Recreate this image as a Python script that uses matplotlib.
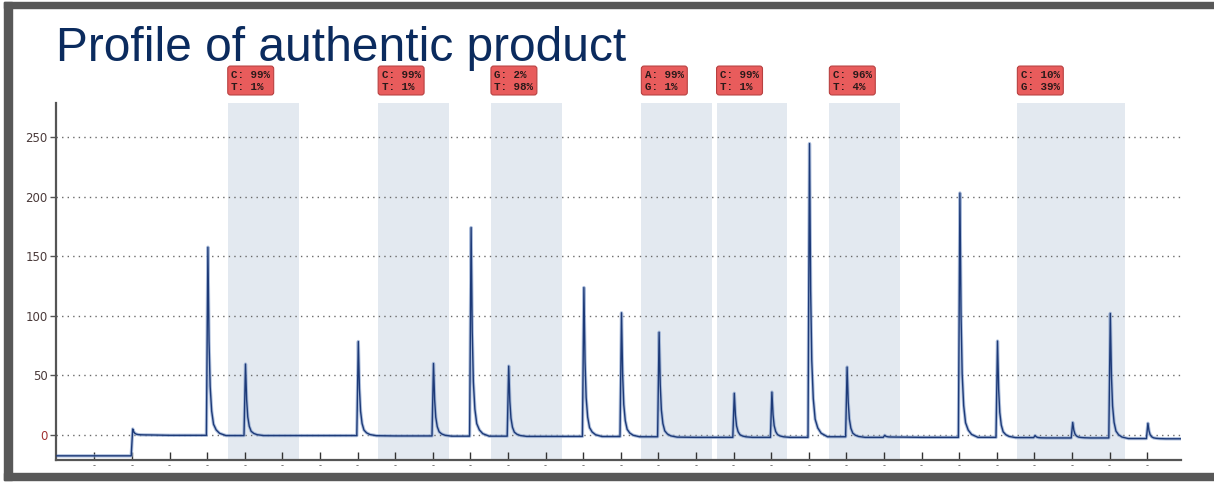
#!/usr/bin/env python3
"""
Pyrogram profile of the authentic product, redrawn with matplotlib.
"""

import matplotlib
matplotlib.use("Agg")
import matplotlib.pyplot as plt
import matplotlib.transforms as mtransforms
from matplotlib.patches import Rectangle

# Dispensation positions that show a peak, and the peak heights (RLU)
peak_pos = [2, 4, 5, 8, 10, 11, 12, 14, 15, 16, 18, 19, 20, 21, 22, 24, 25, 26, 27, 28, 29]
peak_height = [5, 158, 60, 79, 61, 175, 59, 125, 104, 88, 37, 38, 246, 59, 1.5, 205, 81, 2, 13, 105, 13]

# Baseline level after each dispensation 0..29
baseline = [-17.5, -17.5, 0.0, -0.3, -0.5, -0.5, -0.5, -0.5, -0.6, -0.8,
            -1.0, -1.0, -1.2, -1.2, -1.3, -1.5, -1.8, -2.0, -2.0, -2.0,
            -1.5, -2.0, -1.8, -2.0, -2.0, -2.2, -2.5, -2.5, -3.0, -3.2]

# Shape of one peak: offset from dispensation and fraction of peak height
peak_shape_dx = [0.02, 0.05, 0.08, 0.12, 0.17, 0.24, 0.33, 0.5]
peak_shape_frac = [1.0, 0.5, 0.26, 0.13, 0.06, 0.03, 0.012, 0.0]

# Variable positions (shaded) and their allele frequency labels
region_start = [4, 8, 11, 15, 17, 20, 25]
region_len = [1.88, 1.88, 1.88, 1.88, 1.88, 1.88, 2.87]
region_text = ["C: 99%\nT: 1%", "C: 99%\nT: 1%", "G: 2%\nT: 98%", "A: 99%\nG: 1%",
               "C: 99%\nT: 1%", "C: 96%\nT: 4%", "C: 10%\nG: 39%"]

y_ticks = [0, 50, 100, 150, 200, 250]
n_disp = 29

# build the trace vertices from the peak table
heights = dict(zip(peak_pos, peak_height))
xs, ys = [0.0], [baseline[0]]
for k in range(1, n_disp + 1):
    b_prev = baseline[k - 1]
    b = baseline[k] if k < len(baseline) else baseline[-1]
    if k in heights:
        xs.append(k - 0.02)
        ys.append(b_prev)
        for dx, f in zip(peak_shape_dx, peak_shape_frac):
            xs.append(k + dx)
            ys.append(b + f * heights[k])
    else:
        xs.append(k)
        ys.append(b)
xs.append(29.9)
ys.append(baseline[-1])

fig = plt.figure(figsize=(12.14, 4.82), dpi=100)
ax = fig.add_axes([56 / 1214, 1 - 460 / 482, (1181 - 56) / 1214, (460 - 103) / 482])

for s, w in zip(region_start, region_len):
    ax.axvspan(s + 0.55, s + 0.55 + w, color="#e3e9f0", lw=0, zorder=0)

for v in y_ticks:
    ax.axhline(v, color="#6a6a6a", lw=1.0, ls=(0, (1, 3)), zorder=1)

ax.plot(xs, ys, color="#8ea6cf", lw=2.4, alpha=0.7, zorder=2)
ax.plot(xs, ys, color="#1d3a78", lw=1.0, zorder=3)

ax.set_xlim(-0.02, 29.9)
ax.set_ylim(-21, 278.5)

for side in ["top", "right"]:
    ax.spines[side].set_visible(False)
for side in ["left", "bottom"]:
    ax.spines[side].set_color("#555555")
    ax.spines[side].set_linewidth(1.6)

ax.set_yticks(y_ticks)
ax.set_yticklabels([str(v) for v in y_ticks], fontsize=8.5, color="#4a3a3a", family="DejaVu Sans")
ax.get_yticklabels()[0].set_color("#a03030")
ax.tick_params(axis="y", length=4, width=1, color="#555555", pad=2)

ax.set_xticks(range(1, n_disp + 1))
ax.set_xticklabels(["-"] * n_disp, fontsize=6, color="#555555")
ax.tick_params(axis="x", direction="in", length=6, width=1, color="#333333", pad=1)

# allele frequency labels above the shaded regions
trans = mtransforms.blended_transform_factory(ax.transData, ax.transAxes)
for s, txt in zip(region_start, region_text):
    ax.text(s + 0.64, 1.063, txt, transform=trans, ha="left", va="center",
            fontsize=7.8, family="Liberation Mono", weight="bold", color="#2a1a1a",
            linespacing=1.25,
            bbox=dict(boxstyle="round,pad=0.32,rounding_size=0.25",
                      fc="#e85c5c", ec="#b84040", lw=0.8),
            clip_on=False)

fig.text(56 / 1214, 1 - 61 / 482, "Profile of authentic product", fontsize=34.5,
         family="Liberation Sans", color="#0b2b5e", ha="left", va="baseline")

# slide frame
frame = "#585858"
fig.patches.append(Rectangle((4 / 1214, 2 / 482), 1, 7 / 482, transform=fig.transFigure,
                             color=frame, zorder=10))
fig.patches.append(Rectangle((4 / 1214, 1 - 8 / 482), 1, 6 / 482, transform=fig.transFigure,
                             color=frame, zorder=10))
fig.patches.append(Rectangle((4 / 1214, 2 / 482), 8 / 1214, 1 - 4 / 482, transform=fig.transFigure,
                             color=frame, zorder=10))

plt.savefig("out.png", dpi=100)
plt.close()
